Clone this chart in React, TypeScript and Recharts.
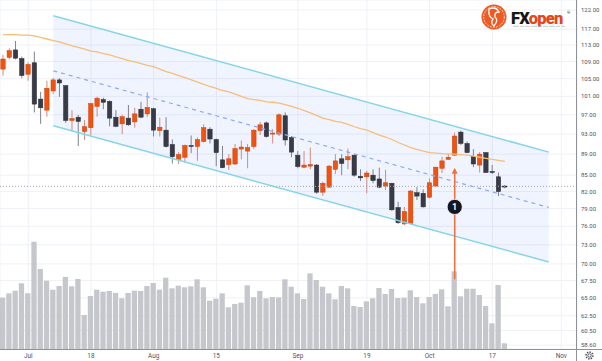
import {
  ComposedChart,
  Bar,
  Line,
  Area,
  XAxis,
  YAxis,
  CartesianGrid,
  ReferenceLine,
  ReferenceDot,
} from "recharts";

// trading days on the axis, the last slots after Oct 19 are still empty
const dates = [
  "2022-06-27", "2022-06-28", "2022-06-29", "2022-06-30", "2022-07-01", "2022-07-05", "2022-07-06", "2022-07-07",
  "2022-07-08", "2022-07-11", "2022-07-12", "2022-07-13", "2022-07-14", "2022-07-15", "2022-07-18", "2022-07-19",
  "2022-07-20", "2022-07-21", "2022-07-22", "2022-07-25", "2022-07-26", "2022-07-27", "2022-07-28", "2022-07-29",
  "2022-08-01", "2022-08-02", "2022-08-03", "2022-08-04", "2022-08-05", "2022-08-08", "2022-08-09", "2022-08-10",
  "2022-08-11", "2022-08-12", "2022-08-15", "2022-08-16", "2022-08-17", "2022-08-18", "2022-08-19", "2022-08-22",
  "2022-08-23", "2022-08-24", "2022-08-25", "2022-08-26", "2022-08-29", "2022-08-30", "2022-08-31", "2022-09-01",
  "2022-09-02", "2022-09-06", "2022-09-07", "2022-09-08", "2022-09-09", "2022-09-12", "2022-09-13", "2022-09-14",
  "2022-09-15", "2022-09-16", "2022-09-19", "2022-09-20", "2022-09-21", "2022-09-22", "2022-09-23", "2022-09-26",
  "2022-09-27", "2022-09-28", "2022-09-29", "2022-09-30", "2022-10-03", "2022-10-04", "2022-10-05", "2022-10-06",
  "2022-10-07", "2022-10-10", "2022-10-11", "2022-10-12", "2022-10-13", "2022-10-14", "2022-10-17", "2022-10-18",
  "2022-10-19", "2022-10-20", "2022-10-21", "2022-10-24", "2022-10-25", "2022-10-26", "2022-10-27", "2022-10-28",
  "2022-10-31", "2022-11-01", "2022-11-02", "2022-11-03",
];

const opens = [
  107.2, 110.0, 111.8, 109.7, 106.0, 108.7, 100.4, 98.0, 102.2, 104.7,
  103.4, 95.8, 96.5, 93.5, 94.3, 98.8, 100.3, 99.9, 96.5, 95.1,
  96.3, 95.5, 98.2, 97.2, 98.3, 93.7, 93.8, 90.9, 88.0, 88.4,
  90.7, 90.5, 91.5, 94.0, 91.9, 87.9, 87.0, 87.1, 90.0, 89.6,
  90.5, 93.7, 95.3, 93.0, 93.0, 96.8, 92.3, 88.8, 86.5, 86.7,
  86.9, 81.9, 82.8, 86.1, 88.1, 87.9, 88.8, 84.8, 84.7, 85.0,
  84.3, 83.0, 83.5, 79.2, 76.4, 76.5, 81.8, 81.7, 81.0, 83.0,
  86.3, 88.0, 88.8, 93.4, 91.1, 88.6, 86.9, 89.3, 85.7, 84.7, 83.0,
];
const highs = [
  110.6, 112.2, 114.0, 110.2, 108.8, 111.4, 102.0, 104.5, 105.2, 105.1,
  103.5, 98.0, 97.0, 95.9, 99.6, 100.9, 100.7, 100.1, 98.0, 97.0,
  99.1, 98.5, 99.8, 101.9, 98.5, 96.4, 96.5, 91.9, 89.4, 90.9,
  92.7, 92.3, 95.0, 94.4, 92.1, 90.6, 89.0, 91.0, 91.7, 91.0,
  94.0, 95.5, 95.6, 94.0, 97.3, 97.5, 92.6, 89.6, 89.6, 90.3,
  87.1, 83.8, 86.9, 89.0, 89.0, 90.1, 89.0, 86.1, 85.8, 86.1,
  86.4, 86.0, 83.6, 80.2, 79.3, 82.3, 82.8, 82.4, 84.4, 86.6,
  88.5, 89.0, 93.3, 93.7, 91.5, 90.0, 89.4, 89.4, 86.9, 85.5, 83.2,
];
const lows = [
  105.7, 109.5, 109.5, 105.1, 104.5, 97.5, 95.1, 96.6, 101.5, 100.9,
  95.3, 93.6, 90.6, 91.8, 92.8, 96.6, 98.2, 94.6, 94.4, 93.0,
  94.7, 94.3, 96.3, 96.5, 92.5, 92.5, 90.3, 87.2, 87.1, 87.4,
  89.2, 87.7, 91.3, 91.1, 86.7, 86.3, 86.0, 86.9, 88.0, 86.3,
  90.0, 92.8, 92.3, 91.1, 92.6, 90.7, 88.4, 86.3, 86.3, 86.1,
  81.6, 81.2, 82.7, 85.2, 85.0, 86.1, 84.7, 83.9, 81.7, 83.5,
  82.6, 82.3, 78.6, 76.4, 76.2, 76.4, 80.5, 79.2, 80.8, 82.9,
  85.4, 87.9, 88.7, 90.8, 89.2, 86.5, 85.5, 85.4, 85.2, 81.2, 82.6,
];
const closes = [
  109.6, 111.6, 109.8, 105.7, 108.3, 99.3, 98.5, 102.8, 104.7, 104.0,
  95.8, 96.2, 95.6, 94.5, 99.4, 100.6, 99.7, 96.3, 94.6, 96.6,
  94.9, 97.2, 96.5, 98.6, 93.8, 94.4, 90.5, 88.5, 88.9, 90.7,
  90.5, 91.9, 94.3, 92.0, 89.3, 86.4, 88.1, 90.1, 90.4, 90.3,
  93.8, 94.9, 92.5, 93.2, 97.0, 91.8, 89.4, 86.6, 86.9, 87.0,
  81.9, 83.5, 86.7, 87.7, 87.2, 88.5, 85.0, 84.5, 85.4, 84.0,
  82.8, 83.6, 78.8, 76.6, 78.5, 82.1, 81.2, 79.3, 83.6, 86.5,
  87.7, 88.4, 92.6, 91.1, 89.3, 87.1, 89.0, 85.5, 85.5, 82.0, 82.9,
];
// millions of shares
const volumes = [
  5.13, 5.57, 5.83, 6.57, 5.57, 10.73, 8.0, 6.83, 5.93, 6.3,
  7.2, 6.27, 7.0, 3.4, 5.3, 5.93, 5.73, 5.8, 5.6, 5.07,
  5.6, 5.83, 5.8, 6.3, 6.6, 5.93, 7.13, 6.07, 6.33, 6.17,
  6.27, 6.97, 6.17, 4.83, 5.03, 5.57, 4.17, 4.5, 4.63, 6.37,
  5.17, 5.8, 5.07, 5.2, 5.17, 6.97, 6.23, 5.57, 5.0, 7.57,
  6.9, 6.23, 5.57, 4.97, 6.3, 6.07, 4.3, 4.2, 4.77, 5.07,
  6.1, 5.5, 6.0, 5.1, 5.13, 5.87, 5.2, 4.57, 5.2, 5.5,
  5.97, 4.27, 7.77, 5.27, 6.03, 6.03, 5.4, 4.3, 2.57, 6.4, 0.57,
];
const movingAvg = [
  115.6, 115.6, 115.6, 115.5, 115.5, 115.3, 114.9, 114.5, 114.1, 113.8,
  113.3, 112.8, 112.4, 112.0, 111.5, 111.3, 110.9, 110.6, 110.1, 109.7,
  109.2, 108.9, 108.5, 108.1, 107.8, 107.2, 106.6, 106.2, 105.7, 105.2,
  104.7, 104.2, 103.7, 103.2, 102.8, 102.3, 102.0, 101.5, 101.0, 100.5,
  100.3, 100.1, 99.8, 99.7, 99.5, 99.2, 98.8, 98.4, 97.9, 97.4,
  96.9, 96.3, 96.0, 95.6, 95.4, 95.0, 94.5, 94.1, 93.8, 93.3,
  92.8, 92.4, 91.9, 91.3, 90.8, 90.3, 89.95, 89.6, 89.3, 89.2,
  89.1, 89.05, 89.0, 88.9, 88.8, 88.6, 88.4, 88.2, 88.0, 87.8, 87.6,
];

// descending channel anchors
const channelDates = ["2022-07-08", "2022-10-28"];
const channelUpper = [120.5, 89.4];
const channelMid = [106.8, 79.2];
const channelLower = [94.7, 70.3];

const priceTicks = [122, 117, 113, 109, 105, 101, 97, 93, 89, 85, 82, 79, 76, 73, 70, 67.5, 65, 62.5, 60.5, 58.6];
const tickDates = ["2022-07-01", "2022-07-18", "2022-08-01", "2022-08-15", "2022-09-01", "2022-09-19", "2022-10-03", "2022-10-17", "2022-11-01"];
const tickLabels = ["Jul", "18", "Aug", "15", "Sep", "19", "Oct", "17", "Nov"];

const lastPrice = 82.95;
const signalDate = "2022-10-07";
const signalFrom = 67.7;
const signalTo = 86.4;
const badgePrice = 79.3;

const UP = "#ef5312";
const DOWN = "#383b46";
const FONT = "Roboto, sans-serif";

const rows = dates.map((date, i) => {
  const c = channelDates.indexOf(date);
  return {
    date,
    open: opens[i],
    high: highs[i],
    low: lows[i],
    close: closes[i],
    range: highs[i] != null ? [lows[i], highs[i]] : null,
    volume: volumes[i] ?? null,
    ma: movingAvg[i] ?? null,
    chUpper: c >= 0 ? channelUpper[c] : null,
    chMid: c >= 0 ? channelMid[c] : null,
    chLower: c >= 0 ? channelLower[c] : null,
    band: c >= 0 ? [channelLower[c], channelUpper[c]] : null,
  };
});

/** Draws one candle: the bar spans low..high, body placed on the same log scale. */
function Candle(props: any) {
  const { x, y, width, height, payload } = props;
  if (payload == null || payload.open == null || !Number.isFinite(y)) return null;
  const { open, high, low, close } = payload;
  const top = Math.min(y, y + height);
  const bottom = Math.max(y, y + height);
  const span = Math.log(high) - Math.log(low);
  const toY = (v: number) => (span === 0 ? top : top + ((bottom - top) * (Math.log(high) - Math.log(v))) / span);
  const cx = x + width / 2;
  const up = close >= open;
  const bTop = toY(Math.max(open, close));
  const bBot = toY(Math.min(open, close));
  return (
    <g>
      <line x1={cx} y1={top} x2={cx} y2={bottom} stroke={up ? "#cf8c80" : "#80838c"} strokeWidth={1} />
      <rect
        x={cx - 2.2}
        y={bTop}
        width={4.4}
        height={Math.max(bBot - bTop, 1)}
        fill={up ? UP : DOWN}
        stroke={up ? "#c9410c" : "#2a2d36"}
        strokeWidth={0.5}
      />
    </g>
  );
}

function SignalArrow(props: any) {
  const { x1, y1, x2, y2 } = props;
  const tip = Math.min(y1, y2);
  const base = Math.max(y1, y2);
  const x = (x1 + x2) / 2;
  return (
    <g>
      <line x1={x} y1={base} x2={x} y2={tip + 5} stroke="#f07140" strokeWidth={1.6} />
      <path d={`M${x} ${tip} L${x - 3} ${tip + 6} L${x + 3} ${tip + 6} Z`} fill="#f07140" />
    </g>
  );
}

function Badge(props: any) {
  const { cx, cy } = props;
  return (
    <g>
      <circle cx={cx} cy={cy} r={7.6} fill="#131722" stroke="#ffffff" strokeWidth={0.8} />
      <text x={cx} y={cy} dy="0.35em" textAnchor="middle" fill="#ffffff" fontSize={9} fontWeight="bold" fontFamily={FONT}>
        1
      </text>
    </g>
  );
}

function PriceTick(props: any) {
  const { x, y, payload } = props;
  return (
    <text x={x + 4} y={y} dy="0.35em" fontSize={6} fill="#4f525c" fontFamily={FONT}>
      {Number(payload.value).toFixed(2)}
    </text>
  );
}

function DateTick(props: any) {
  const { x, y, payload } = props;
  const label = tickLabels[tickDates.indexOf(payload.value)] ?? "";
  return (
    <text x={x} y={y + 9.2} textAnchor="middle" fontSize={6.4} fill="#4f525c" fontFamily={FONT}>
      {label}
    </text>
  );
}

export default function App() {
  return (
    <div style={{ position: "relative", width: 602, height: 361, background: "#ffffff", overflow: "hidden" }}>
      <style>{"body{margin:0}"}</style>
      <ComposedChart width={602} height={361} data={rows} margin={{ top: 0, right: 0, bottom: 0, left: 0 }}>
        <CartesianGrid xAxisId="main" yAxisId="price" stroke="#eef1f6" />
        <XAxis
          xAxisId="main"
          dataKey="date"
          ticks={tickDates}
          interval={0}
          height={12}
          tickSize={0}
          tickMargin={0}
          axisLine={false}
          tickLine={false}
          tick={<DateTick />}
        />
        <XAxis xAxisId="vol" dataKey="date" hide />
        <YAxis
          yAxisId="price"
          orientation="right"
          scale="log"
          domain={[58.11, 124.7]}
          allowDataOverflow
          ticks={priceTicks}
          interval={0}
          width={25}
          tickSize={0}
          tickMargin={0}
          axisLine={false}
          tickLine={false}
          tick={<PriceTick />}
        />
        <YAxis yAxisId="vol" hide domain={[0, 34.9]} allowDataOverflow />

        <Bar xAxisId="vol" yAxisId="vol" dataKey="volume" fill="#c6c7cc" barSize={5.3} isAnimationActive={false} />

        <Area
          xAxisId="main"
          yAxisId="price"
          dataKey="band"
          connectNulls
          stroke="none"
          fill="#2962ff"
          fillOpacity={0.07}
          dot={false}
          activeDot={false}
          isAnimationActive={false}
        />
        <Line
          xAxisId="main"
          yAxisId="price"
          dataKey="ma"
          stroke="#f8bd78"
          strokeWidth={1.3}
          dot={false}
          activeDot={false}
          isAnimationActive={false}
        />
        <Bar xAxisId="main" yAxisId="price" dataKey="range" barSize={4} shape={<Candle />} isAnimationActive={false} />

        <Line
          xAxisId="main"
          yAxisId="price"
          dataKey="chUpper"
          connectNulls
          stroke="#86d4ec"
          strokeWidth={1.5}
          dot={false}
          activeDot={false}
          isAnimationActive={false}
        />
        <Line
          xAxisId="main"
          yAxisId="price"
          dataKey="chLower"
          connectNulls
          stroke="#86d4ec"
          strokeWidth={1.5}
          dot={false}
          activeDot={false}
          isAnimationActive={false}
        />
        <Line
          xAxisId="main"
          yAxisId="price"
          dataKey="chMid"
          connectNulls
          stroke="#8ea8f6"
          strokeWidth={1.2}
          strokeDasharray="4 4"
          dot={false}
          activeDot={false}
          isAnimationActive={false}
        />

        <ReferenceLine xAxisId="main" yAxisId="price" y={lastPrice} stroke="#a3a6ae" strokeDasharray="1 2" />
        <ReferenceLine
          xAxisId="main"
          yAxisId="price"
          segment={[
            { x: signalDate, y: signalFrom },
            { x: signalDate, y: signalTo },
          ]}
          shape={SignalArrow}
        />
        <ReferenceDot xAxisId="main" yAxisId="price" x={signalDate} y={badgePrice} r={7.6} shape={Badge} />
      </ComposedChart>

      <svg width={602} height={361} style={{ position: "absolute", left: 0, top: 0, pointerEvents: "none" }}>
        <line x1={576.5} y1={0} x2={576.5} y2={361} stroke="#8f9199" strokeWidth={1} />
        <line x1={0} y1={349.5} x2={602} y2={349.5} stroke="#8f9199" strokeWidth={1} />
        {/* settings gear */}
        <circle cx={589.5} cy={355.5} r={3.4} fill="none" stroke="#4a4c55" strokeWidth={1.6} strokeDasharray="1.4 1.2" />
        <circle cx={589.5} cy={355.5} r={1.7} fill="none" stroke="#4a4c55" strokeWidth={0.9} />
        {/* broker logo */}
        <circle cx={494} cy={17} r={12.5} fill="#ef5a22" />
        <circle cx={494} cy={17} r={10.3} fill="none" stroke="#ffffff" strokeWidth={0.7} strokeDasharray="2 1" />
        <path
          d="M489 9 q7 -3 10 3 q-5 0 -4 5 q4 3 -1 9 q-4 -3 -1 -7 q-5 -2 -4 -10 Z"
          fill="none"
          stroke="#ffffff"
          strokeWidth={1.3}
        />
        <text x={511} y={23.5} fontSize={16.5} fontWeight={900} fontFamily={FONT} letterSpacing={-0.8}>
          <tspan fill="#161616">FX</tspan>
          <tspan fill="#e5461c">open</tspan>
        </text>
        <text x={567} y={14} fontSize={4} fill="#333333" fontFamily={FONT}>
          ®
        </text>
        <line x1={513} y1={26.3} x2={565} y2={26.3} stroke="#b9b9b9" strokeWidth={0.8} strokeDasharray="6 1 4 1 5 1" />
      </svg>
    </div>
  );
}
